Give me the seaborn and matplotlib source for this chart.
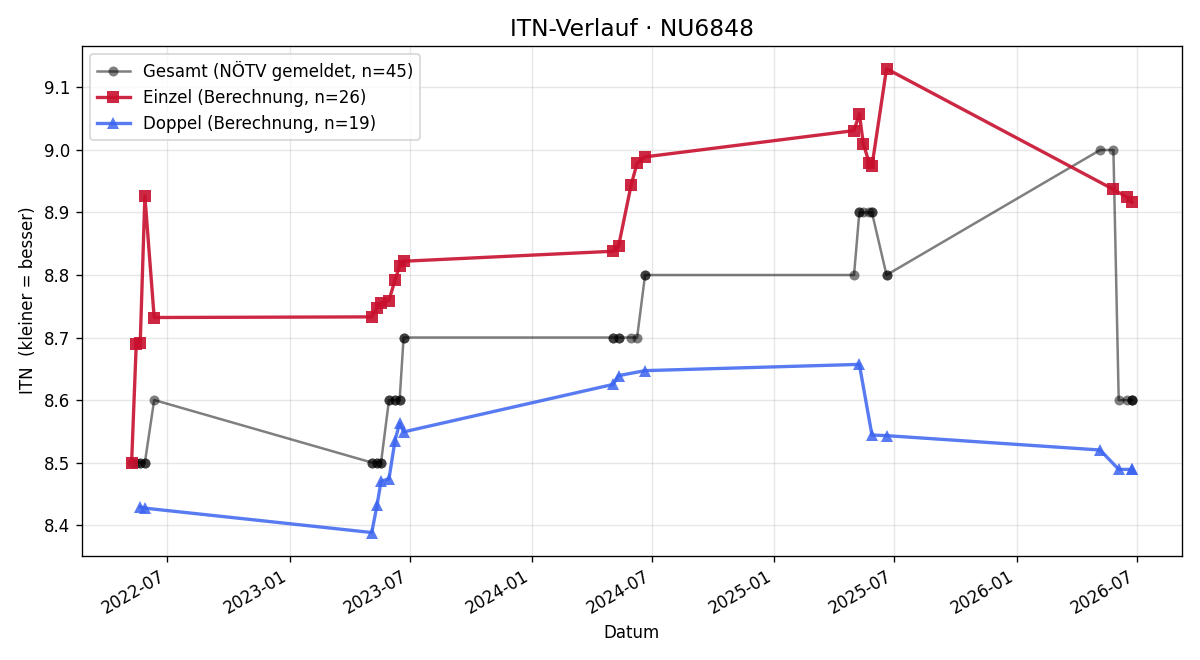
import pandas as pd
import matplotlib
matplotlib.use("Agg")
import matplotlib.pyplot as plt
import matplotlib.dates as mdates
import seaborn as sns

# ================= DATA =================
einzel_dates = [
    "2022-05-08", "2022-05-15", "2022-05-21", "2022-05-28", "2022-06-11",
    "2023-05-05", "2023-05-13", "2023-05-19", "2023-05-31", "2023-06-09", "2023-06-16", "2023-06-22",
    "2024-05-03", "2024-05-11", "2024-05-30", "2024-06-08", "2024-06-20",
    "2025-05-01", "2025-05-09", "2025-05-15", "2025-05-24", "2025-05-28", "2025-06-19",
    "2026-05-27", "2026-06-17", "2026-06-24",
]
einzel_itn = [
    8.500, 8.690, 8.692, 8.926, 8.732,
    8.733, 8.748, 8.756, 8.759, 8.792, 8.814, 8.822,
    8.838, 8.846, 8.944, 8.979, 8.989,
    9.031, 9.058, 9.010, 8.979, 8.974, 9.130,
    8.937, 8.924, 8.916,
]

doppel_dates = [
    "2022-05-21", "2022-05-28",
    "2023-05-05", "2023-05-13", "2023-05-19", "2023-05-31", "2023-06-09", "2023-06-16", "2023-06-22",
    "2024-05-03", "2024-05-11", "2024-06-20",
    "2025-05-09", "2025-05-28", "2025-06-19",
    "2026-05-07", "2026-06-04", "2026-06-24", "2026-06-24",
]
doppel_itn = [
    8.429, 8.427,
    8.388, 8.432, 8.470, 8.474, 8.535, 8.563, 8.549,
    8.625, 8.639, 8.647,
    8.657, 8.544, 8.543,
    8.520, 8.489, 8.489, 8.489,
]

# gemeldeter Gesamt-ITN (NÖTV) an den Spieltagen
gesamt_dates = [
    "2022-05-08", "2022-05-15", "2022-05-21", "2022-05-21", "2022-05-28", "2022-05-28", "2022-06-11",
    "2023-05-05", "2023-05-05", "2023-05-13", "2023-05-13", "2023-05-19", "2023-05-19",
    "2023-05-31", "2023-05-31", "2023-06-09", "2023-06-09", "2023-06-16", "2023-06-16",
    "2023-06-22", "2023-06-22",
    "2024-05-03", "2024-05-03", "2024-05-11", "2024-05-11", "2024-05-30", "2024-06-08",
    "2024-06-20", "2024-06-20",
    "2025-05-01", "2025-05-09", "2025-05-09", "2025-05-15", "2025-05-24", "2025-05-28", "2025-05-28",
    "2025-06-19", "2025-06-19",
    "2026-05-07", "2026-05-27", "2026-06-04", "2026-06-17", "2026-06-24", "2026-06-24", "2026-06-24",
]
gesamt_itn = [
    8.5, 8.5, 8.5, 8.5, 8.5, 8.5, 8.6,
    8.5, 8.5, 8.5, 8.5, 8.5, 8.5,
    8.6, 8.6, 8.6, 8.6, 8.6, 8.6,
    8.7, 8.7,
    8.7, 8.7, 8.7, 8.7, 8.7, 8.7,
    8.8, 8.8,
    8.8, 8.9, 8.9, 8.9, 8.9, 8.9, 8.9,
    8.8, 8.8,
    9.0, 9.0, 8.6, 8.6, 8.6, 8.6, 8.6,
]

df_e = pd.DataFrame({"Datum": pd.to_datetime(einzel_dates), "ITN": einzel_itn})
df_d = pd.DataFrame({"Datum": pd.to_datetime(doppel_dates), "ITN": doppel_itn})
df_g = pd.DataFrame({"Datum": pd.to_datetime(gesamt_dates), "ITN": gesamt_itn})

# ================= PLOT =================
fig, ax = plt.subplots(figsize=(10, 5.5), dpi=120)

sns.lineplot(data=df_g, x="Datum", y="ITN", estimator=None, sort=False, ax=ax,
             color="black", alpha=0.5, lw=1.5, marker="o", markersize=6, markeredgewidth=0,
             label=f"Gesamt (NÖTV gemeldet, n={len(gesamt_itn)})")
sns.lineplot(data=df_e, x="Datum", y="ITN", estimator=None, sort=False, ax=ax,
             color="#c8102e", alpha=0.9, lw=2, marker="s", markersize=7, markeredgewidth=0,
             label=f"Einzel (Berechnung, n={len(einzel_itn)})")
sns.lineplot(data=df_d, x="Datum", y="ITN", estimator=None, sort=False, ax=ax,
             color="#3c64f0", alpha=0.85, lw=2, marker="^", markersize=7, markeredgewidth=0,
             label=f"Doppel (Berechnung, n={len(doppel_itn)})")

ax.xaxis.set_major_locator(mdates.MonthLocator(bymonth=[1, 7]))
ax.xaxis.set_major_formatter(mdates.DateFormatter("%Y-%m"))
fig.autofmt_xdate()

ax.grid(True, alpha=0.3)
ax.set_title("ITN-Verlauf · NU6848", fontsize=14)
ax.set_xlabel("Datum")
ax.set_ylabel("ITN  (kleiner = besser)")
ax.legend(loc="upper left")

plt.subplots_adjust(left=0.068, right=0.985, top=0.931, bottom=0.158)
plt.savefig("out.png")
